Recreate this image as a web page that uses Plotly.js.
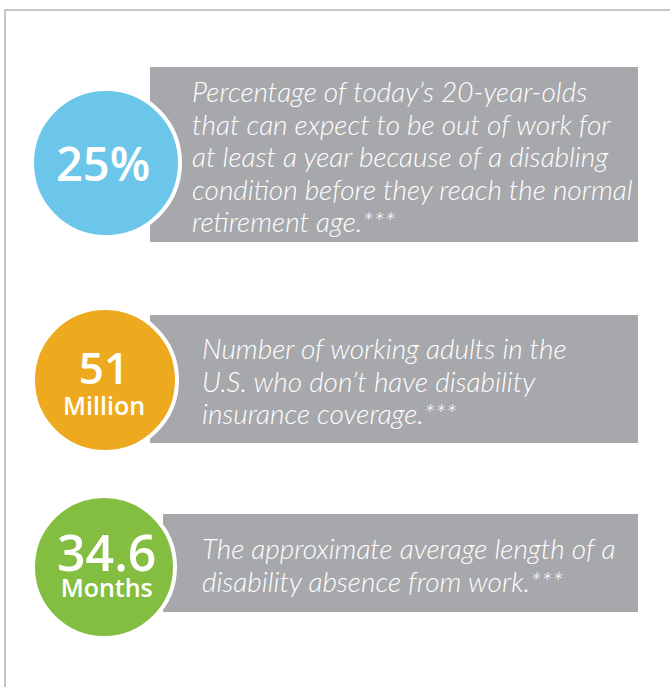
<!DOCTYPE html>
<html>
<head>
<meta charset="utf-8">
<script src="https://cdn.plot.ly/plotly-3.0.1.min.js"></script>
<style>html,body{margin:0;padding:0;background:#fff;}#chart{width:670px;height:687px;}</style>
</head>
<body>
<div id="chart"></div>
<script>
// ---- data ----
const statValues = ["25%", "51", "34.6"];
const statUnits = ["", "Million", "Months"];
const statDescriptions = [
  ["Percentage of today\u2019s 20-year-olds", "that can expect to be out of work for", "at least a year because of a disabling", "condition before they reach the normal", "retirement age.***"],
  ["Number of working adults in the", "U.S. who don\u2019t have disability", "insurance coverage.***"],
  ["The approximate average length of a", "disability absence from work.***"]
];
const statColors = ["#6CC6EA", "#EEAA1E", "#84BE41"];

// ---- layout (positions / styles) ----
const boxes = [
  {x0: 150, x1: 638, y0: 67, y1: 242, tx: 190},
  {x0: 150, x1: 638, y0: 315, y1: 443, tx: 200},
  {x0: 163, x1: 638, y0: 514, y1: 612, tx: 200}
];
const circles = [
  {cx: 106, cy: 163, r: 74, tx: 103, ty: 163, vs: 47, base: 24},
  {cx: 105, cy: 380, r: 72, tx: 104, ty: 379, vs: 44, base: 24},
  {cx: 104, cy: 567, r: 71, tx: 106, ty: 561, vs: 50, base: 20}
];
const boxGray = "#A7A8AB";
const borderGray = "#C6C6C6";

const shapes = [];
const annotations = [];

// outer border (top + left)
shapes.push({type: "line", xref: "x", yref: "y", x0: 4, x1: 670, y0: 10, y1: 10, line: {color: borderGray, width: 2}});
shapes.push({type: "line", xref: "x", yref: "y", x0: 5, x1: 5, y0: 10, y1: 687, line: {color: borderGray, width: 2}});

statValues.forEach((v, i) => {
  const b = boxes[i], c = circles[i];
  shapes.push({type: "rect", xref: "x", yref: "y", x0: b.x0, x1: b.x1, y0: b.y0, y1: b.y1,
    fillcolor: boxGray, line: {width: 0}, layer: "above"});
  shapes.push({type: "circle", xref: "x", yref: "y", x0: c.cx - c.r, x1: c.cx + c.r, y0: c.cy - c.r, y1: c.cy + c.r,
    fillcolor: statColors[i], line: {color: "#FFFFFF", width: 4}, layer: "above"});

  annotations.push({
    x: b.tx, y: (b.y0 + b.y1) / 2 + 1, xref: "x", yref: "y", xanchor: "left", yanchor: "middle", align: "left",
    showarrow: false,
    text: statDescriptions[i].map(l => "<span style='font-size:28px'>" + l + "</span>").join("<br>"),
    font: {family: "Lato, 'Open Sans', sans-serif", size: 25, color: "#FFFFFF", style: "italic", weight: 300}
  });

  if (statUnits[i]) {
    annotations.push({
      x: c.tx, y: c.ty, xref: "x", yref: "y", xanchor: "center", yanchor: "middle", showarrow: false,
      text: "<span style='font-size:" + c.vs + "px'>" + v + "</span><br><span style='font-size:25px'>" + statUnits[i] + "</span>",
      font: {family: "'Open Sans', sans-serif", size: c.base, color: "#FFFFFF", weight: 600}
    });
  } else {
    annotations.push({
      x: c.tx, y: c.ty, xref: "x", yref: "y", xanchor: "center", yanchor: "middle", showarrow: false,
      text: v, font: {family: "'Open Sans', sans-serif", size: c.vs, color: "#FFFFFF", weight: 600}
    });
  }
});

// invisible trace so axes exist
const data = [{x: [0, 670], y: [0, 687], mode: "markers", marker: {opacity: 0}, hoverinfo: "skip", showlegend: false, type: "scatter"}];

const layout = {
  width: 670, height: 687,
  margin: {l: 0, r: 0, t: 0, b: 0},
  paper_bgcolor: "#FFFFFF", plot_bgcolor: "#FFFFFF",
  xaxis: {range: [0, 670], visible: false, fixedrange: true},
  yaxis: {range: [687, 0], visible: false, fixedrange: true},
  shapes: shapes,
  annotations: annotations,
  showlegend: false
};

Plotly.newPlot("chart", data, layout, {displayModeBar: false, staticPlot: true});
</script>
</body>
</html>
